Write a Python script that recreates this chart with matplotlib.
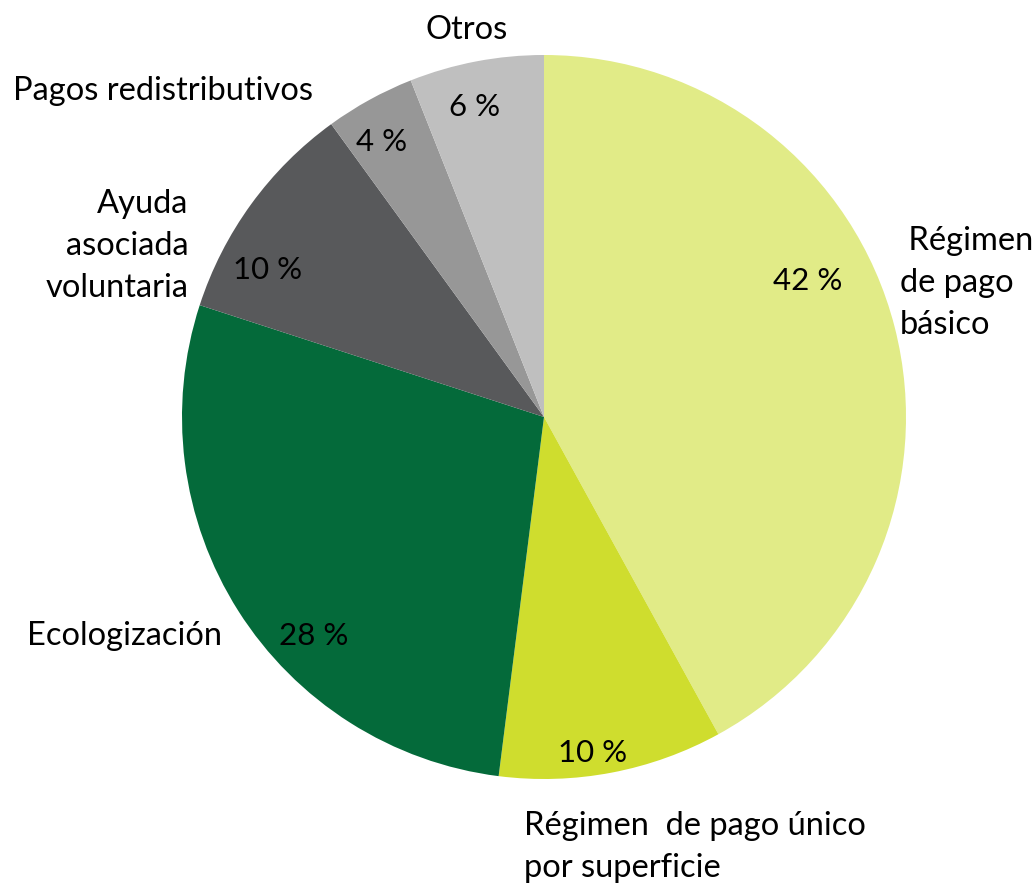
import matplotlib
matplotlib.use('Agg')
import matplotlib.pyplot as plt

# datos del gráfico (porcentajes)
categorias = [' Régimen\nde pago\nbásico', 'Régimen  de pago único\npor superficie', 'Ecologización',
              'Ayuda\nasociada\nvoluntaria', 'Pagos redistributivos', 'Otros']
valores = [42, 10, 28, 10, 4, 6]
colores = ['#E1EB87', '#CFDD2E', '#046A3A', '#58595B', '#979797', '#BFBFBF']

# posiciones de las etiquetas (en unidades del radio)
pos_pct = [(0.729, 0.376), (0.135, -0.928), (-0.635, -0.605),
           (-0.765, 0.406), (-0.448, 0.760), (-0.193, 0.856)]
pos_cat = [(0.983, 0.370), (-0.055, -1.188), (-0.890, -0.605),
           (-0.983, 0.472), (-0.638, 0.901), (-0.213, 1.069)]
alin_cat = ['left', 'left', 'right', 'right', 'right', 'center']

plt.rcParams['font.family'] = ['Lato', 'DejaVu Sans']

fig = plt.figure(figsize=(10.35, 8.84), dpi=100)
cx, cy, r = 544, 417, 362
ax = fig.add_axes([(cx - r) / 1035, (884 - cy - r) / 884, 2 * r / 1035, 2 * r / 884])
ax.pie(valores, colors=colores, startangle=90, counterclock=False, radius=1,
       wedgeprops=dict(linewidth=0))
ax.set_xlim(-1, 1)
ax.set_ylim(-1, 1)
ax.axis('off')

for v, (x, y) in zip(valores, pos_pct):
    ax.text(x, y, '{} %'.format(v), ha='center', va='center', fontsize=22.5, color='black')

for t, (x, y), a in zip(categorias, pos_cat, alin_cat):
    ax.text(x, y, t, ha=a, va='center', fontsize=23.5, color='black',
            multialignment=a, linespacing=1.5, clip_on=False)

fig.savefig('out.png', dpi=100)
